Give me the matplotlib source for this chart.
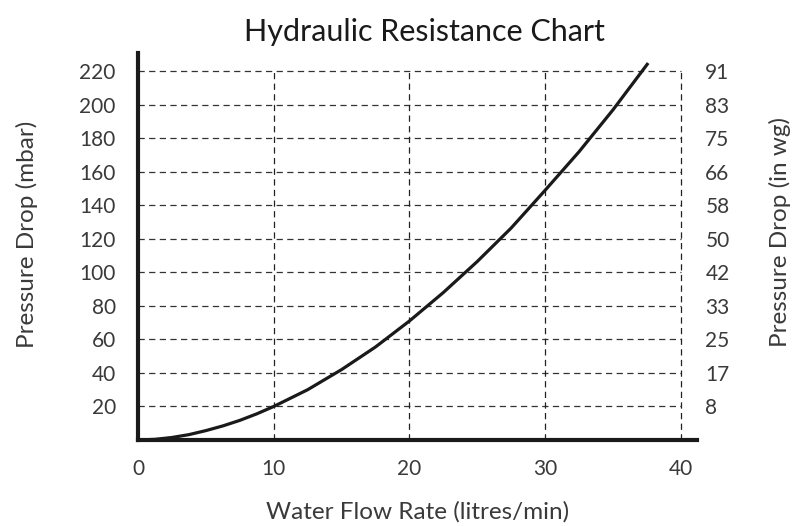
import matplotlib
matplotlib.use("Agg")
import matplotlib.pyplot as plt

# values
flow = [0, 1.25, 2.5, 3.75, 5, 6.25, 7.5, 8.75, 10, 12.5, 15, 17.5, 20,
        22.5, 25, 27.5, 30, 32.5, 35, 37.6]
pressure = [0, 0.4, 1.5, 3.2, 5.6, 8.4, 11.7, 15.6, 20, 30, 42, 55.5, 71,
            88, 106.5, 126.5, 149, 172, 197, 225]

mbar_ticks = [20, 40, 60, 80, 100, 120, 140, 160, 180, 200, 220]
inwg_labels = ["8", "17", "25", "33", "42", "50", "58", "66", "75", "83", "91"]
flow_ticks = [0, 10, 20, 30, 40]

plt.rcParams["font.family"] = ["Lato", "DejaVu Sans"]
txt = "#3a3a3a"

fig = plt.figure(figsize=(7.99, 5.26), dpi=100)
ax = fig.add_axes([138 / 799, 1 - 440 / 526, (697 - 138) / 799, (440 - 53) / 526])
ax.set_xlim(0, 41.2)
ax.set_ylim(0, 231)

# dashed grid, only inside 0..40 / 0..220
for y in mbar_ticks:
    ax.plot([0, 40], [y, y], ls=(0, (5, 3.5)), color="#333333", lw=0.9, zorder=1)
for x in flow_ticks[1:]:
    ax.plot([x, x], [0, 220], ls=(0, (5, 3.5)), color="#222222", lw=0.9, zorder=1)

ax.plot(flow, pressure, color="#1a1a1a", lw=2.3, solid_capstyle="butt", zorder=3)

for s in ["top", "right"]:
    ax.spines[s].set_visible(False)
for s in ["left", "bottom"]:
    ax.spines[s].set_linewidth(3)
    ax.spines[s].set_color("#1a1a1a")
    ax.spines[s].set_zorder(4)

ax.set_xticks(flow_ticks)
ax.set_yticks(mbar_ticks)
ax.tick_params(axis="both", length=0, labelsize=15, labelcolor=txt)
ax.tick_params(axis="y", pad=16)
ax.tick_params(axis="x", pad=14)

ax2 = ax.twinx()
ax2.set_ylim(0, 231)
ax2.set_yticks(mbar_ticks)
ax2.set_yticklabels(inwg_labels)
ax2.tick_params(axis="y", length=0, labelsize=15, labelcolor=txt, pad=6)
for s in ax2.spines.values():
    s.set_visible(False)

ax.set_xlabel("Water Flow Rate (litres/min)", fontsize=17.5, color=txt)
ax.xaxis.set_label_coords(0.5, -0.186)
ax.xaxis.label.set_va("center")
ax.set_ylabel("Pressure Drop (mbar)", fontsize=17.5, color=txt)
ax.yaxis.set_label_coords(-0.199, 0.532)
ax.yaxis.label.set_va("center")
ax2.set_ylabel("Pressure Drop (in wg)", fontsize=17.5, color=txt)
ax2.yaxis.set_label_coords(1.1485, 0.537)
ax2.yaxis.label.set_va("center")

fig.text(424 / 799, 1 - 32 / 526, "Hydraulic Resistance Chart", ha="center", va="center",
         fontsize=22, color="#1a1a1a")

fig.savefig("out.png", dpi=100)
